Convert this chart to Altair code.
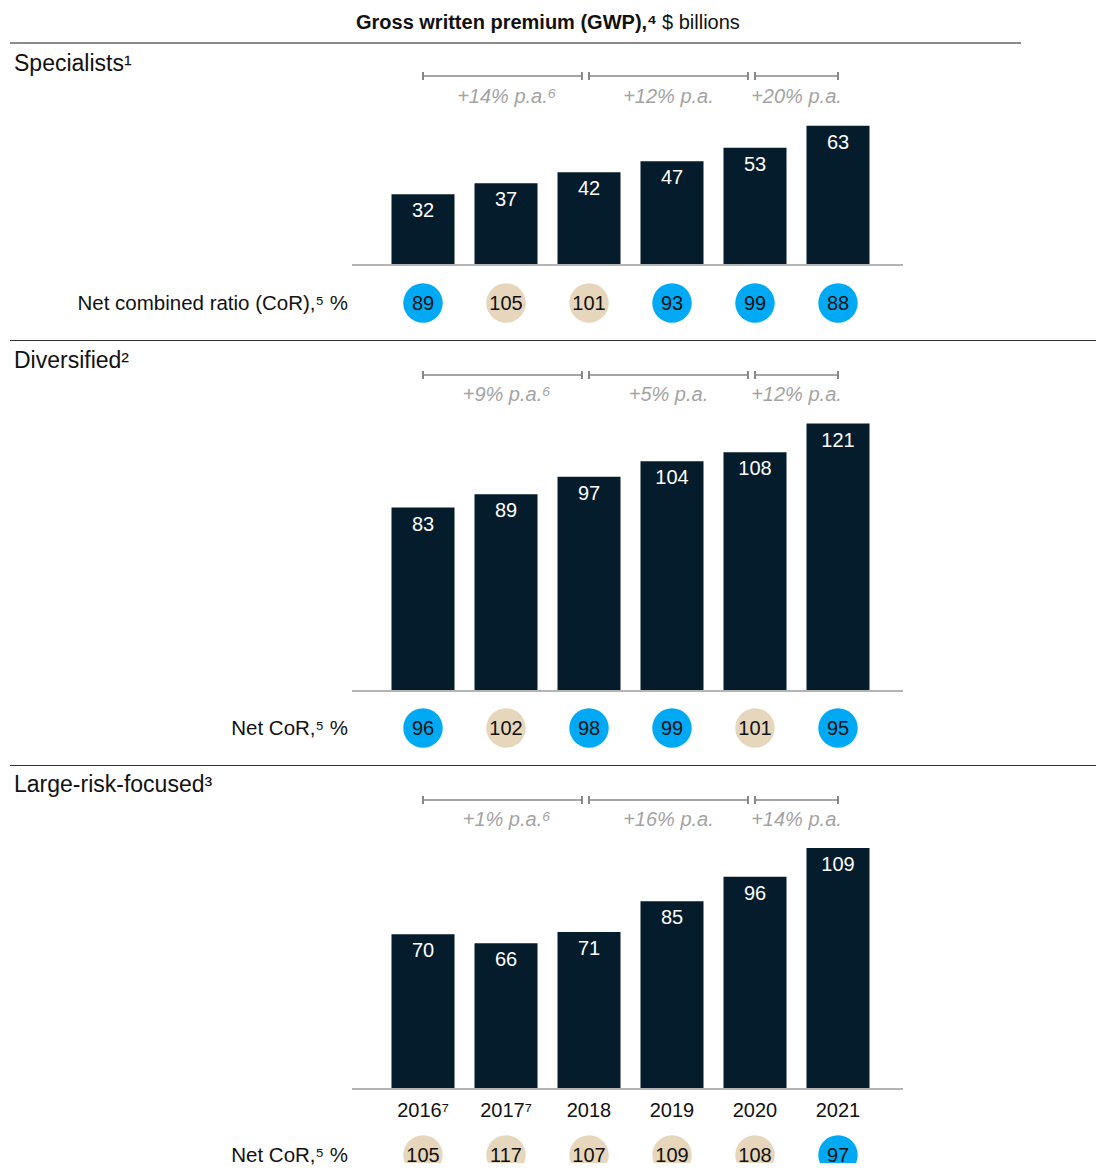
import altair as alt
import pandas as pd

# ---------------- data ----------------
years = [2016, 2017, 2018, 2019, 2020, 2021]
year_labels = ["2016⁷", "2017⁷", "2018", "2019", "2020", "2021"]

gwp_specialists = [32, 37, 42, 47, 53, 63]
gwp_diversified = [83, 89, 97, 104, 108, 121]
gwp_large = [70, 66, 71, 85, 96, 109]

cor_specialists = [89, 105, 101, 93, 99, 88]
cor_diversified = [96, 102, 98, 99, 101, 95]
cor_large = [105, 117, 107, 109, 108, 97]

period_start = [2016, 2018, 2020]
period_end = [2018, 2020, 2021]
growth_specialists = ["+14% p.a.⁶", "+12% p.a.", "+20% p.a."]
growth_diversified = ["+9% p.a.⁶", "+5% p.a.", "+12% p.a."]
growth_large = ["+1% p.a.⁶", "+16% p.a.", "+14% p.a."]

title_bold = "Gross written premium (GWP),⁴"
title_regular = "$ billions"
segment_names = ["Specialists¹", "Diversified²", "Large-risk-focused³"]
cor_labels = ["Net combined ratio (CoR),⁵ %", "Net CoR,⁵ %", "Net CoR,⁵ %"]

# ---------------- styles ----------------
FONT = "Liberation Sans"
NAVY = "#051c2c"
BLUE = "#00a9f4"
BEIGE = "#e6d6bb"
GRAY_BR = "#878787"
GRAY_TXT = "#a3a3a3"
W = 1089

XSCALE = alt.Scale(domain=[2016, 2021], range=[415, 830], nice=False, zero=False, padding=0)


def xq(field):
    return alt.X(f"{field}:Q", scale=XSCALE, axis=None)


def yscale(base):
    return alt.Scale(domain=[0, 100], range=[base, base - 221], nice=False, zero=False, padding=0)


def text_layer(txt, x, y, size=20, align="left", weight="normal", color="#111111", style="normal"):
    return alt.Chart(pd.DataFrame({"t": [txt]})).mark_text(
        font=FONT, fontSize=size, align=align, baseline="middle",
        fontWeight=weight, color=color, fontStyle=style,
    ).encode(text="t:N", x=alt.value(x), y=alt.value(y))


def hline(x1, x2, y, color, width):
    return alt.Chart(pd.DataFrame({"a": [0]})).mark_rule(
        color=color, strokeWidth=width
    ).encode(x=alt.value(x1), x2=alt.value(x2), y=alt.value(y))


def panel(height, name, name_y, gwp, cor, cor_label, growth, br_y, gl_y, base, circ_y,
          top_layers, year_y=None):
    ys = yscale(base)
    df = pd.DataFrame({"year": years, "gwp": gwp, "cor": cor, "ylab": year_labels})
    df["kind"] = ["good" if c < 100 else "bad" for c in cor]
    gdf = pd.DataFrame({"start": period_start, "end": period_end, "label": growth})

    bars = alt.Chart(df).mark_bar(color=NAVY, size=63, orient="vertical").encode(
        x=xq("year"), y=alt.Y("gwp:Q", scale=ys, axis=None), y2=alt.datum(0)
    )
    bar_text = alt.Chart(df).mark_text(
        font=FONT, fontSize=20, color="white", baseline="middle", dy=17
    ).encode(x=xq("year"), y=alt.Y("gwp:Q", scale=ys, axis=None), text="gwp:Q")

    baseline = hline(344, 895, base, "#b4b4b4", 2)

    circles = alt.Chart(df).mark_circle(size=1560, opacity=1, clip=True).encode(
        x=xq("year"), y=alt.value(circ_y),
        color=alt.Color("kind:N", scale=alt.Scale(domain=["good", "bad"], range=[BLUE, BEIGE]),
                        legend=None),
    )
    circ_text = alt.Chart(df).mark_text(
        font=FONT, fontSize=20, color="#111111", baseline="middle", clip=True
    ).encode(x=xq("year"), y=alt.value(circ_y + 1), text="cor:Q")

    # growth brackets
    gbase = alt.Chart(gdf).transform_calculate(
        e2="datum.end - (datum.end < 2021 ? 0.085 : 0)",
        mid="(datum.start + datum.end - (datum.end < 2021 ? 0.085 : 0)) / 2 + (indexof(datum.label, '⁶') >= 0 ? 0.05 : 0)",
    )
    br_line = gbase.mark_rule(color=GRAY_BR, strokeWidth=1.5).encode(
        x=xq("start"), x2="e2:Q", y=alt.value(br_y)
    )
    br_tick1 = gbase.mark_rule(color=GRAY_BR, strokeWidth=2).encode(
        x=xq("start"), y=alt.value(br_y - 4), y2=alt.value(br_y + 4)
    )
    br_tick2 = gbase.mark_rule(color=GRAY_BR, strokeWidth=2).encode(
        x=xq("e2"), y=alt.value(br_y - 4), y2=alt.value(br_y + 4)
    )
    br_text = gbase.mark_text(
        font=FONT, fontSize=20, fontStyle="italic", color=GRAY_TXT, baseline="middle"
    ).encode(x=xq("mid"), y=alt.value(gl_y), text="label:N")

    layers = list(top_layers) + [
        text_layer(name, 6, name_y, size=23),
        br_line, br_tick1, br_tick2, br_text,
        bars, bar_text, baseline,
        text_layer(cor_label, 340, circ_y + 1, size=20.5, align="right"),
        circles, circ_text,
    ]
    if year_y is not None:
        layers.append(
            alt.Chart(df).mark_text(font=FONT, fontSize=20, color="#111111", baseline="middle")
            .encode(x=xq("year"), y=alt.value(year_y), text="ylab:N")
        )
    return alt.layer(*layers).properties(width=W, height=height)


p1 = panel(
    332, segment_names[0], 56, gwp_specialists, cor_specialists, cor_labels[0],
    growth_specialists, 68, 89, 257, 295,
    top_layers=[
        text_layer(title_bold, 649, 15, size=20, align="right", weight="bold"),
        text_layer(title_regular, 654, 15, size=20, align="left"),
        hline(2, 1013, 35, "#666666", 1.5),
    ],
)
p2 = panel(
    425, segment_names[1], 21, gwp_diversified, cor_diversified, cor_labels[1],
    growth_diversified, 35, 55, 351, 388,
    top_layers=[hline(2, 1088, 0.5, "#333333", 1)],
)
p3 = panel(
    398, segment_names[2], 20, gwp_large, cor_large, cor_labels[2],
    growth_large, 35, 55, 324, 390,
    top_layers=[hline(2, 1088, 0.5, "#333333", 1)],
    year_y=346,
)

chart = alt.vconcat(p1, p2, p3, spacing=0).properties(
    padding=0, autosize=alt.AutoSizeParams(type="pad")
).configure_view(stroke=None)

chart.save("out.html", embed_options={"renderer": "svg", "actions": False})
